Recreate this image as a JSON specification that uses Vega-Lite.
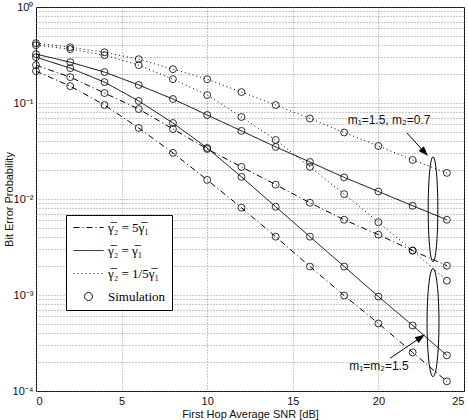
{
  "$schema": "https://vega.github.io/schema/vega-lite/v6.json",
  "width": 428,
  "height": 384,
  "autosize": {"type": "none"},
  "padding": {"left": 36, "top": 7, "right": 4, "bottom": 29},
  "background": "white",
  "config": {
    "view": {"stroke": "black", "strokeWidth": 1},
    "axis": {
      "labelFont": "Liberation Sans",
      "labelFontSize": 11,
      "labelColor": "#111",
      "titleFont": "Liberation Sans",
      "titleFontSize": 11,
      "titleFontWeight": "normal",
      "titleColor": "#111",
      "domain": false,
      "ticks": false,
      "grid": true,
      "gridColor": "#777",
      "gridDash": [1, 2],
      "gridWidth": 0.8
    }
  },
  "datasets": {
    "ber": [
      {"x": 0, "y": 0.42, "g": "a", "s": "1/5"},
      {"x": 2, "y": 0.381, "g": "a", "s": "1/5"},
      {"x": 4, "y": 0.338, "g": "a", "s": "1/5"},
      {"x": 6, "y": 0.286, "g": "a", "s": "1/5"},
      {"x": 8, "y": 0.225, "g": "a", "s": "1/5"},
      {"x": 10, "y": 0.177, "g": "a", "s": "1/5"},
      {"x": 12, "y": 0.13, "g": "a", "s": "1/5"},
      {"x": 14, "y": 0.0952, "g": "a", "s": "1/5"},
      {"x": 16, "y": 0.0689, "g": "a", "s": "1/5"},
      {"x": 18, "y": 0.0493, "g": "a", "s": "1/5"},
      {"x": 20, "y": 0.0357, "g": "a", "s": "1/5"},
      {"x": 22, "y": 0.0255, "g": "a", "s": "1/5"},
      {"x": 24, "y": 0.0187, "g": "a", "s": "1/5"},
      {"x": 0, "y": 0.4, "g": "b", "s": "1/5"},
      {"x": 2, "y": 0.364, "g": "b", "s": "1/5"},
      {"x": 4, "y": 0.315, "g": "b", "s": "1/5"},
      {"x": 6, "y": 0.248, "g": "b", "s": "1/5"},
      {"x": 8, "y": 0.177, "g": "b", "s": "1/5"},
      {"x": 10, "y": 0.121, "g": "b", "s": "1/5"},
      {"x": 12, "y": 0.0715, "g": "b", "s": "1/5"},
      {"x": 14, "y": 0.0412, "g": "b", "s": "1/5"},
      {"x": 16, "y": 0.0216, "g": "b", "s": "1/5"},
      {"x": 18, "y": 0.01124, "g": "b", "s": "1/5"},
      {"x": 20, "y": 0.00573, "g": "b", "s": "1/5"},
      {"x": 22, "y": 0.0029, "g": "b", "s": "1/5"},
      {"x": 24, "y": 0.00141, "g": "b", "s": "1/5"},
      {"x": 0, "y": 0.323, "g": "a", "s": "1"},
      {"x": 2, "y": 0.266, "g": "a", "s": "1"},
      {"x": 4, "y": 0.21, "g": "a", "s": "1"},
      {"x": 6, "y": 0.154, "g": "a", "s": "1"},
      {"x": 8, "y": 0.11, "g": "a", "s": "1"},
      {"x": 10, "y": 0.075, "g": "a", "s": "1"},
      {"x": 12, "y": 0.0512, "g": "a", "s": "1"},
      {"x": 14, "y": 0.0349, "g": "a", "s": "1"},
      {"x": 16, "y": 0.0243, "g": "a", "s": "1"},
      {"x": 18, "y": 0.0168, "g": "a", "s": "1"},
      {"x": 20, "y": 0.01197, "g": "a", "s": "1"},
      {"x": 22, "y": 0.0085, "g": "a", "s": "1"},
      {"x": 24, "y": 0.00608, "g": "a", "s": "1"},
      {"x": 0, "y": 0.3, "g": "b", "s": "1"},
      {"x": 2, "y": 0.231, "g": "b", "s": "1"},
      {"x": 4, "y": 0.165, "g": "b", "s": "1"},
      {"x": 6, "y": 0.105, "g": "b", "s": "1"},
      {"x": 8, "y": 0.0619, "g": "b", "s": "1"},
      {"x": 10, "y": 0.034, "g": "b", "s": "1"},
      {"x": 12, "y": 0.017, "g": "b", "s": "1"},
      {"x": 14, "y": 0.0083, "g": "b", "s": "1"},
      {"x": 16, "y": 0.00405, "g": "b", "s": "1"},
      {"x": 18, "y": 0.00198, "g": "b", "s": "1"},
      {"x": 20, "y": 0.000964, "g": "b", "s": "1"},
      {"x": 22, "y": 0.000481, "g": "b", "s": "1"},
      {"x": 24, "y": 0.000235, "g": "b", "s": "1"},
      {"x": 0, "y": 0.248, "g": "a", "s": "5"},
      {"x": 2, "y": 0.186, "g": "a", "s": "5"},
      {"x": 4, "y": 0.127, "g": "a", "s": "5"},
      {"x": 6, "y": 0.0865, "g": "a", "s": "5"},
      {"x": 8, "y": 0.0536, "g": "a", "s": "5"},
      {"x": 10, "y": 0.0332, "g": "a", "s": "5"},
      {"x": 12, "y": 0.0216, "g": "a", "s": "5"},
      {"x": 14, "y": 0.0141, "g": "a", "s": "5"},
      {"x": 16, "y": 0.00913, "g": "a", "s": "5"},
      {"x": 18, "y": 0.00608, "g": "a", "s": "5"},
      {"x": 20, "y": 0.00425, "g": "a", "s": "5"},
      {"x": 22, "y": 0.0029, "g": "a", "s": "5"},
      {"x": 24, "y": 0.00202, "g": "a", "s": "5"},
      {"x": 0, "y": 0.215, "g": "b", "s": "5"},
      {"x": 2, "y": 0.15, "g": "b", "s": "5"},
      {"x": 4, "y": 0.0952, "g": "b", "s": "5"},
      {"x": 6, "y": 0.0549, "g": "b", "s": "5"},
      {"x": 8, "y": 0.0302, "g": "b", "s": "5"},
      {"x": 10, "y": 0.0158, "g": "b", "s": "5"},
      {"x": 12, "y": 0.00811, "g": "b", "s": "5"},
      {"x": 14, "y": 0.00405, "g": "b", "s": "5"},
      {"x": 16, "y": 0.00198, "g": "b", "s": "5"},
      {"x": 18, "y": 0.000987, "g": "b", "s": "5"},
      {"x": 20, "y": 0.000505, "g": "b", "s": "5"},
      {"x": 22, "y": 0.000252, "g": "b", "s": "5"},
      {"x": 24, "y": 0.000126, "g": "b", "s": "5"}
    ]
  },
  "layer": [
    {
      "data": {"name": "ber"},
      "mark": {"type": "line", "color": "black", "strokeWidth": 1},
      "encoding": {
        "x": {
          "field": "x", "type": "quantitative",
          "scale": {"domain": [0, 25], "nice": false, "zero": false},
          "axis": {"values": [0, 5, 10, 15, 20, 25], "title": "First Hop Average SNR [dB]", "labelPadding": 4, "titlePadding": 2}
        },
        "y": {
          "field": "y", "type": "quantitative",
          "scale": {"type": "log", "domain": [0.0001, 1], "nice": false},
          "axis": {
            "title": "Bit Error Probability",
            "values": [0.0001, 0.0002, 0.0003, 0.0004, 0.0005, 0.0006, 0.0007, 0.0008, 0.0009, 0.001, 0.002, 0.003, 0.004, 0.005, 0.006, 0.007, 0.008, 0.009, 0.01, 0.02, 0.03, 0.04, 0.05, 0.06, 0.07, 0.08, 0.09, 0.1, 0.2, 0.3, 0.4, 0.5, 0.6, 0.7, 0.8, 0.9, 1],
            "labelExpr": "datum.value == 1 ? '10⁰' : datum.value == 0.1 ? '10⁻¹' : datum.value == 0.01 ? '10⁻²' : datum.value == 0.001 ? '10⁻³' : datum.value == 0.0001 ? '10⁻⁴' : ''",
            "labelPadding": 3,
            "titleX": -22
          }
        },
        "detail": {"field": "g"},
        "strokeDash": {
          "field": "s", "type": "nominal",
          "scale": {"domain": ["5", "1", "1/5", "sim"], "range": [[6, 3, 1, 3], [1, 0], [1, 3], [1, 0]]},
          "legend": {
            "orient": "none", "legendX": 30, "legendY": 208,
            "title": null,
            "direction": "vertical",
            "fillColor": "white",
            "strokeColor": "black",
            "padding": 6,
            "symbolType": "M-1,0L5,0",
            "symbolSize": 100,
            "symbolStrokeColor": "black",
            "symbolStrokeWidth": 1,
            "symbolFillColor": "transparent",
            "labelFont": "Liberation Serif",
            "labelFontSize": 13,
            "labelColor": "black",
            "labelOffset": 23,
            "rowPadding": 9,
            "labelExpr": "datum.value == '5' ? 'γ̅₂ = 5γ̅₁' : datum.value == '1' ? 'γ̅₂ = γ̅₁' : datum.value == '1/5' ? 'γ̅₂ = 1/5γ̅₁' : 'Simulation'",
            "encode": {
              "symbols": {
                "update": {
                  "shape": {"signal": "datum.value === 'sim' ? 'M2.8,0A0.8,0.8 0 1,1 1.2,0A0.8,0.8 0 1,1 2.8,0Z' : 'M-1,0L5,0'"}
                }
              }
            }
          }
        }
      }
    },
    {
      "data": {"name": "ber"},
      "mark": {"type": "point", "shape": "circle", "filled": false, "color": "black", "size": 48, "strokeWidth": 0.8, "opacity": 1},
      "encoding": {
        "x": {"field": "x", "type": "quantitative"},
        "y": {"field": "y", "type": "quantitative"}
      }
    },
    {
      "data": {"values": [{"x": 23.19, "y": 0.00781}]},
      "mark": {"type": "point", "shape": "M0,-1A0.092,1 0 1,1 0,1A0.092,1 0 1,1 0,-1Z", "filled": false, "color": "black", "size": 11025, "strokeWidth": 1, "opacity": 1},
      "encoding": {
        "x": {"field": "x", "type": "quantitative"},
        "y": {"field": "y", "type": "quantitative"}
      }
    },
    {
      "data": {"values": [{"x": 23.19, "y": 0.000515}]},
      "mark": {"type": "point", "shape": "M0,-1A0.11,1 0 1,1 0,1A0.11,1 0 1,1 0,-1Z", "filled": false, "color": "black", "size": 11664, "strokeWidth": 1, "opacity": 1},
      "encoding": {
        "x": {"field": "x", "type": "quantitative"},
        "y": {"field": "y", "type": "quantitative"}
      }
    },
    {
      "data": {"values": [
        {"x": 21.67, "y": 0.0487, "x2": 22.8, "y2": 0.0292},
        {"x": 20.68, "y": 0.000219, "x2": 22.6, "y2": 0.000375}
      ]},
      "mark": {"type": "rule", "color": "black", "strokeWidth": 1},
      "encoding": {
        "x": {"field": "x", "type": "quantitative"},
        "y": {"field": "y", "type": "quantitative"},
        "x2": {"field": "x2"},
        "y2": {"field": "y2"}
      }
    },
    {
      "data": {"values": [{"x": 22.9, "y": 0.0281}]},
      "mark": {"type": "point", "shape": "M0,0L0.35,1L-0.35,1Z", "filled": true, "color": "black", "size": 400, "angle": 137.6, "opacity": 1},
      "encoding": {
        "x": {"field": "x", "type": "quantitative"},
        "y": {"field": "y", "type": "quantitative"}
      }
    },
    {
      "data": {"values": [{"x": 22.72, "y": 0.000388}]},
      "mark": {"type": "point", "shape": "M0,0L0.35,1L-0.35,1Z", "filled": true, "color": "black", "size": 400, "angle": 55.6, "opacity": 1},
      "encoding": {
        "x": {"field": "x", "type": "quantitative"},
        "y": {"field": "y", "type": "quantitative"}
      }
    },
    {
      "data": {"values": [
        {"x": 20.62, "y": 0.0665, "t": "m₁=1.5, m₂=0.7"},
        {"x": 20.03, "y": 0.000181, "t": "m₁=m₂=1.5"}
      ]},
      "mark": {"type": "text", "font": "Liberation Sans", "fontSize": 12, "color": "#111", "align": "center", "baseline": "middle"},
      "encoding": {
        "x": {"field": "x", "type": "quantitative"},
        "y": {"field": "y", "type": "quantitative"},
        "text": {"field": "t"}
      }
    }
  ]
}
